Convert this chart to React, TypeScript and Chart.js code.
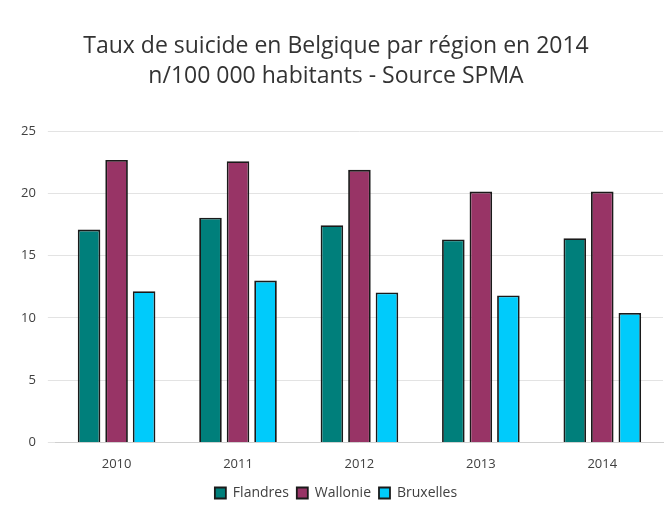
import React, { useEffect, useRef } from "react";
import { Chart, registerables } from "chart.js";

Chart.register(...registerables);

const categories = ["2010", "2011", "2012", "2013", "2014"];
const flandres = [17.1, 18.05, 17.45, 16.3, 16.4];
const wallonie = [22.7, 22.6, 21.9, 20.15, 20.15];
const bruxelles = [12.15, 13.0, 12.05, 11.8, 10.4];
const titleLines = [
  "Taux de suicide en Belgique par région en 2014",
  "n/100 000 habitants - Source SPMA",
];
const seriesNames = ["Flandres", "Wallonie", "Bruxelles"];

export default function App() {
  const ref = useRef<HTMLCanvasElement>(null);
  useEffect(() => {
    document.body.style.margin = "0";
    const ctx = ref.current!;
    const common = {
      borderColor: "#1a1a1a",
      borderWidth: 1.8,
      categoryPercentage: 0.68,
      barPercentage: 0.82,
    };
    const font = "'Open Sans', sans-serif";
    const chart = new Chart(ctx, {
      type: "bar",
      data: {
        labels: categories,
        datasets: [
          { label: seriesNames[0], data: flandres, backgroundColor: "#007f7b", ...common },
          { label: seriesNames[1], data: wallonie, backgroundColor: "#983466", ...common },
          { label: seriesNames[2], data: bruxelles, backgroundColor: "#00cbfb", ...common },
        ],
      },
      options: {
        animation: false,
        responsive: false,
        maintainAspectRatio: false,
        layout: { padding: { left: 9, right: 6, top: 31, bottom: -3 } },
        plugins: {
          title: {
            display: true,
            text: titleLines,
            color: "#333333",
            font: { family: font, size: 23, weight: "normal", lineHeight: 1.31 },
            padding: { top: 0, bottom: 40 },
          },
          legend: {
            position: "bottom",
            labels: {
              color: "#404040",
              font: { family: font, size: 14 },
              boxWidth: 11,
              boxHeight: 11,
              padding: 8,
            },
          },
          tooltip: { enabled: false },
        },
        scales: {
          x: {
            grid: { display: false },
            border: { color: "#d0d0d0" },
            ticks: { color: "#404040", font: { family: font, size: 13 }, padding: 6 },
          },
          y: {
            min: 0,
            max: 25,
            ticks: { stepSize: 5, color: "#404040", font: { family: font, size: 13 }, padding: 12 },
            grid: { color: "#e3e3e3" },
            border: { display: false },
          },
        },
      },
    });
    return () => chart.destroy();
  }, []);
  return (
    <div style={{ width: 669, height: 507, background: "#fff" }}>
      <canvas ref={ref} width={669} height={507} />
    </div>
  );
}
